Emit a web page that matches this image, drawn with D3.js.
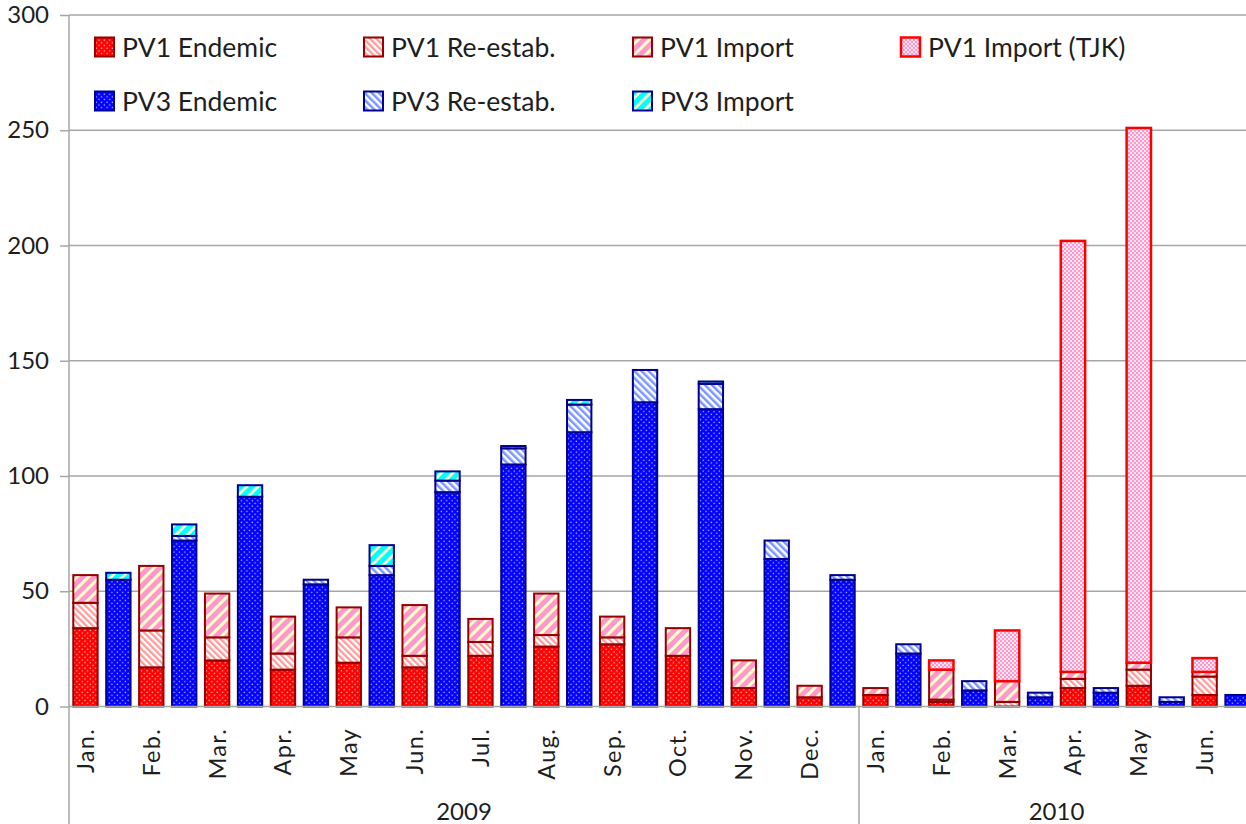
<!DOCTYPE html>
<html>
<head>
<meta charset="utf-8">
<script src="https://cdn.jsdelivr.net/npm/d3@7"></script>
<style>
  html, body { margin: 0; padding: 0; background: #fff; }
  svg { display: block; }
  text { font-family: Lato, "Open Sans", sans-serif; fill: #1e1e1e; }
</style>
</head>
<body>
<svg id="chart" width="1246" height="824"></svg>
<script>
// ---------- DATA ----------
const months = ["Jan.","Feb.","Mar.","Apr.","May","Jun.","Jul.","Aug.","Sep.","Oct.","Nov.","Dec.",
                "Jan.","Feb.","Mar.","Apr.","May","Jun."];
const years = ["2009","2010"];
const yearMonthCounts = [12, 6];
const yTicks = [0, 50, 100, 150, 200, 250, 300];

const pv1Endemic   = [34,17,20,16,19,17,22,26,27,22, 8, 4,  5, 2, 0,  8,  9, 5];
const pv1Reestab   = [11,16,10, 7,11, 5, 6, 5, 3, 0, 0, 0,  0, 1, 2,  4,  7, 8];
const pv1Import    = [12,28,19,16,13,22,10,18, 9,12,12, 5,  3,13, 9,  3,  3, 2];
const pv1ImportTJK = [ 0, 0, 0, 0, 0, 0, 0, 0, 0, 0, 0, 0,  0, 4,22,187,232, 6];

const pv3Endemic   = [55,72,91,53,57,93,105,119,132,129,64,55, 23, 7, 4, 6, 2, 5];
const pv3Reestab   = [ 0, 2, 0, 2, 4, 5,  7, 12, 14, 11, 8, 2,  4, 4, 2, 2, 2, 0];
const pv3Import    = [ 3, 5, 5, 0, 9, 4,  1,  2,  0,  1, 0, 0,  0, 0, 0, 0, 0, 0];

const pv1Keys = ["PV1 Endemic","PV1 Re-estab.","PV1 Import","PV1 Import (TJK)"];
const pv3Keys = ["PV3 Endemic","PV3 Re-estab.","PV3 Import"];

// ---------- SETUP ----------
const svg = d3.select("#chart");
const plotL = 69, plotR = 1254, plotT = 15, plotB = 706.5;

const y = d3.scaleLinear().domain([0, 300]).range([plotB, plotT]);
const nSlots = months.length * 2;
const x = d3.scaleBand().domain(d3.range(nSlots)).range([plotL, plotR])
  .paddingInner(0.26).paddingOuter(0.13);

// ---------- PATTERNS ----------
const defs = svg.append("defs");
function dots(id, bg) {
  const p = defs.append("pattern").attr("id", id).attr("patternUnits", "userSpaceOnUse")
    .attr("width", 5.4).attr("height", 5.4);
  p.append("rect").attr("width", 5.4).attr("height", 5.4).attr("fill", bg);
  p.append("rect").attr("x", 0.6).attr("y", 0.6).attr("width", 1.3).attr("height", 1.3).attr("fill", "#fff").attr("opacity", 0.75);
  p.append("rect").attr("x", 3.3).attr("y", 3.3).attr("width", 1.3).attr("height", 1.3).attr("fill", "#fff").attr("opacity", 0.75);
}
function stripes(id, c1, c2, period, frac, angle) {
  const p = defs.append("pattern").attr("id", id).attr("patternUnits", "userSpaceOnUse")
    .attr("width", period).attr("height", period).attr("patternTransform", `rotate(${angle})`);
  p.append("rect").attr("width", period).attr("height", period).attr("fill", c2);
  p.append("rect").attr("width", period * frac).attr("height", period).attr("fill", c1);
}
function checker(id, c1, c2) {
  const p = defs.append("pattern").attr("id", id).attr("patternUnits", "userSpaceOnUse")
    .attr("width", 4).attr("height", 4);
  p.append("rect").attr("width", 4).attr("height", 4).attr("fill", c2);
  p.append("rect").attr("width", 2).attr("height", 2).attr("fill", c1);
  p.append("rect").attr("x", 2).attr("y", 2).attr("width", 2).attr("height", 2).attr("fill", c1);
}
dots("pEndRed", "#ff0000");
dots("pEndBlue", "#0000ff");
stripes("pReRed", "#ff9a9a", "#ffffff", 4.5, 0.5, -45);
stripes("pImpRed", "#ff99cc", "#ffffcc", 8, 0.62, 45);
checker("pTJK", "#ff99cc", "#ffe4f1");
stripes("pReBlue", "#7a96ff", "#ffffff", 5, 0.5, -45);
stripes("pImpBlue", "#00ffff", "#ffffcc", 8, 0.65, 45);

const styles = {
  "PV1 Endemic":      {fill: "url(#pEndRed)",  stroke: "#960000", sw: 2},
  "PV1 Re-estab.":    {fill: "url(#pReRed)",   stroke: "#960000", sw: 2},
  "PV1 Import":       {fill: "url(#pImpRed)",  stroke: "#960000", sw: 2},
  "PV1 Import (TJK)": {fill: "url(#pTJK)",     stroke: "#ff0000", sw: 2.5},
  "PV3 Endemic":      {fill: "url(#pEndBlue)", stroke: "#000090", sw: 2},
  "PV3 Re-estab.":    {fill: "url(#pReBlue)",  stroke: "#000090", sw: 2},
  "PV3 Import":       {fill: "url(#pImpBlue)", stroke: "#000090", sw: 2}
};

// ---------- GRID & AXES ----------
const grid = svg.append("g");
grid.selectAll("line").data(yTicks.filter(d => d > 0)).join("line")
  .attr("x1", plotL).attr("x2", plotR)
  .attr("y1", d => y(d)).attr("y2", d => y(d))
  .attr("stroke", "#a6a6a6").attr("stroke-width", 1.5);

const yAxis = svg.append("g").attr("transform", `translate(${plotL},0)`)
  .call(d3.axisLeft(y).tickValues(yTicks).tickSize(9).tickPadding(11));
yAxis.select(".domain").remove();
yAxis.selectAll(".tick line").attr("stroke", "#a6a6a6").attr("stroke-width", 1.5);
yAxis.selectAll(".tick text").style("font-family", "Lato, sans-serif").style("font-size", "24px").attr("fill", "#1e1e1e");

// ---------- BARS ----------
const pv1Rows = months.map((m, i) => ({i, "PV1 Endemic": pv1Endemic[i], "PV1 Re-estab.": pv1Reestab[i], "PV1 Import": pv1Import[i], "PV1 Import (TJK)": pv1ImportTJK[i]}));
const pv3Rows = months.map((m, i) => ({i, "PV3 Endemic": pv3Endemic[i], "PV3 Re-estab.": pv3Reestab[i], "PV3 Import": pv3Import[i]}));
const st1 = d3.stack().keys(pv1Keys)(pv1Rows);
const st3 = d3.stack().keys(pv3Keys)(pv3Rows);

function drawStack(series, offset) {
  series.forEach(s => {
    const sty = styles[s.key];
    svg.append("g").selectAll("rect").data(s.filter(d => d[1] - d[0] > 0)).join("rect")
      .attr("x", d => x(d.data.i * 2 + offset))
      .attr("width", x.bandwidth())
      .attr("y", d => y(d[1]))
      .attr("height", d => y(d[0]) - y(d[1]))
      .attr("fill", sty.fill).attr("stroke", sty.stroke).attr("stroke-width", sty.sw);
  });
}
drawStack(st1, 0);
drawStack(st3, 1);

// axis lines on top
svg.append("line").attr("x1", plotL).attr("x2", plotR).attr("y1", plotB).attr("y2", plotB)
  .attr("stroke", "#a6a6a6").attr("stroke-width", 1.5);
svg.append("line").attr("x1", plotL).attr("x2", plotL).attr("y1", plotT).attr("y2", 824)
  .attr("stroke", "#a6a6a6").attr("stroke-width", 1.5);

// ---------- CATEGORY LABELS ----------
svg.append("g").selectAll("text").data(months).join("text")
  .attr("transform", (d, i) => `translate(${x(i * 2) + x.bandwidth() / 2},728) rotate(-90)`)
  .attr("text-anchor", "end").attr("dy", "0.36em")
  .style("font-size", "23.5px").style("letter-spacing", "1.3px")
  .text(d => d);

let startSlot = 0;
years.forEach((yr, k) => {
  const endSlot = startSlot + yearMonthCounts[k] * 2;
  const x0 = startSlot === 0 ? plotL : x(startSlot) - x.step() * x.paddingInner() / 2;
  const x1 = endSlot >= nSlots ? plotR : x(endSlot) - x.step() * x.paddingInner() / 2;
  svg.append("text").attr("x", (x0 + x1) / 2).attr("y", 820).attr("text-anchor", "middle")
    .style("font-size", "24px").text(yr);
  svg.append("line").attr("x1", x1).attr("x2", x1).attr("y1", plotB).attr("y2", 824)
    .attr("stroke", "#a6a6a6").attr("stroke-width", 1.5);
  startSlot = endSlot;
});

// ---------- LEGEND ----------
const legendItems = [
  {key: "PV1 Endemic", col: 0, row: 0}, {key: "PV1 Re-estab.", col: 1, row: 0},
  {key: "PV1 Import", col: 2, row: 0}, {key: "PV1 Import (TJK)", col: 3, row: 0},
  {key: "PV3 Endemic", col: 0, row: 1}, {key: "PV3 Re-estab.", col: 1, row: 1},
  {key: "PV3 Import", col: 2, row: 1}
];
const colX = [95, 364, 633, 901], rowY = [47, 101];
const lg = svg.append("g").selectAll("g").data(legendItems).join("g")
  .attr("transform", d => `translate(${colX[d.col]},${rowY[d.row]})`);
lg.append("rect").attr("x", 0).attr("y", -9.5).attr("width", 19).attr("height", 19)
  .attr("fill", d => styles[d.key].fill).attr("stroke", d => styles[d.key].stroke)
  .attr("stroke-width", d => styles[d.key].sw);
lg.append("text").attr("x", 27).attr("dy", "0.36em").style("font-size", "26.5px").text(d => d.key);
</script>
</body>
</html>
